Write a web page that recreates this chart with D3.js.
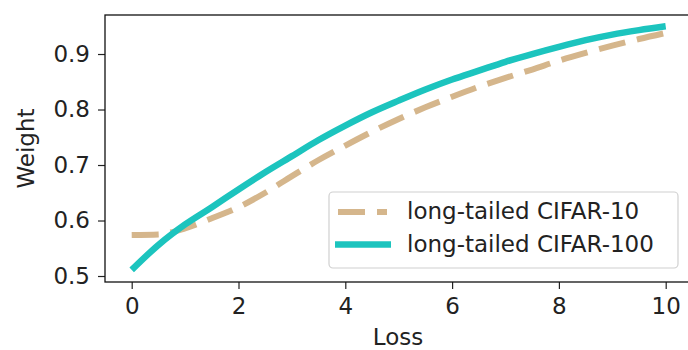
<!DOCTYPE html>
<html>
<head>
<meta charset="utf-8">
<script src="https://cdn.jsdelivr.net/npm/d3@7"></script>
<style>
  body { margin: 0; background: #fff; }
  text { font-family: "DejaVu Sans", sans-serif; fill: #222; }
</style>
</head>
<body>
<script>
// loss values along the x axis
var losses = [0, 0.5, 1, 1.5, 2, 2.5, 3, 3.5, 4, 4.5, 5, 5.5, 6, 6.5, 7, 7.5, 8, 8.5, 9, 9.5, 10];
// weights
var cifar10 = [0.574, 0.575, 0.586, 0.604, 0.624, 0.650, 0.680, 0.709, 0.735, 0.760, 0.783, 0.804, 0.823, 0.841, 0.857, 0.872, 0.888, 0.902, 0.915, 0.927, 0.938];
var cifar100 = [0.511, 0.556, 0.593, 0.624, 0.656, 0.687, 0.716, 0.745, 0.771, 0.795, 0.816, 0.836, 0.854, 0.870, 0.886, 0.900, 0.913, 0.925, 0.935, 0.943, 0.950];
var xTicks = [0, 2, 4, 6, 8, 10];
var yTicks = [0.5, 0.6, 0.7, 0.8, 0.9];
var seriesNames = ["long-tailed CIFAR-10", "long-tailed CIFAR-100"];

var width = 688, height = 350;
// plot area edges (right spine falls just outside the picture)
var plotL = 105, plotR = 692.4, plotT = 15, plotB = 282;

var svg = d3.select("body").append("svg")
    .attr("width", width)
    .attr("height", height);

var x = d3.scaleLinear().domain([-0.5, 10.5]).range([plotL, plotR]);
var y = d3.scaleLinear().domain([0.4892, 0.9703]).range([plotB, plotT]);

svg.append("defs").append("clipPath").attr("id", "plotClip")
  .append("rect")
    .attr("x", plotL).attr("y", plotT)
    .attr("width", plotR - plotL).attr("height", plotB - plotT);

var line = d3.line()
    .x(function (d) { return x(d[0]); })
    .y(function (d) { return y(d[1]); })
    .curve(d3.curveMonotoneX);

var styles = [
    { color: "#d5b68c", width: 6, dash: "27,12", x1: 338, x2: 387 },
    { color: "#1cc4be", width: 6.5, dash: null, x1: 335, x2: 391 }
];

[cifar10, cifar100].forEach(function (vals, i) {
    svg.append("path")
        .datum(losses.map(function (l, j) { return [l, vals[j]]; }))
        .attr("clip-path", "url(#plotClip)")
        .attr("fill", "none")
        .attr("stroke", styles[i].color)
        .attr("stroke-width", styles[i].width)
        .attr("stroke-dasharray", styles[i].dash)
        .attr("d", line);
});

// axes
var xAxis = svg.append("g")
    .attr("transform", "translate(0," + plotB + ")")
    .call(d3.axisBottom(x).tickValues(xTicks).tickSize(7).tickPadding(9).tickFormat(d3.format("d")));

var yAxis = svg.append("g")
    .attr("transform", "translate(" + plotL + ",0)")
    .call(d3.axisLeft(y).tickValues(yTicks).tickSize(7).tickPadding(8).tickFormat(d3.format(".1f")));

[xAxis, yAxis].forEach(function (a) {
    a.select(".domain").remove();
    a.selectAll("line").attr("stroke", "#222").attr("stroke-width", 1.2);
    a.selectAll("text").style("font-size", "23px").attr("fill", "#222");
});

// frame
svg.append("rect")
    .attr("x", plotL).attr("y", plotT)
    .attr("width", plotR - plotL).attr("height", plotB - plotT)
    .attr("fill", "none")
    .attr("stroke", "#111")
    .attr("stroke-width", 1.3);

svg.append("text")
    .attr("x", 398)
    .attr("y", 345)
    .attr("text-anchor", "middle")
    .style("font-size", "23px")
    .text("Loss");

svg.append("text")
    .attr("transform", "translate(34," + ((plotT + plotB) / 2) + ") rotate(-90)")
    .attr("text-anchor", "middle")
    .style("font-size", "23px")
    .text("Weight");

// legend
var legend = svg.append("g");
legend.append("rect")
    .attr("x", 329).attr("y", 192)
    .attr("width", 349).attr("height", 76)
    .attr("rx", 4)
    .attr("fill", "#fff")
    .attr("fill-opacity", 0.8)
    .attr("stroke", "#d0d0d0")
    .attr("stroke-width", 1.2);

seriesNames.forEach(function (name, i) {
    var cy = 212 + i * 32.5;
    legend.append("line")
        .attr("x1", styles[i].x1).attr("x2", styles[i].x2)
        .attr("y1", cy).attr("y2", cy)
        .attr("stroke", styles[i].color)
        .attr("stroke-width", styles[i].width)
        .attr("stroke-dasharray", styles[i].dash);
    legend.append("text")
        .attr("x", 407)
        .attr("y", cy + 7)
        .style("font-size", "23px")
        .text(name);
});
</script>
</body>
</html>
